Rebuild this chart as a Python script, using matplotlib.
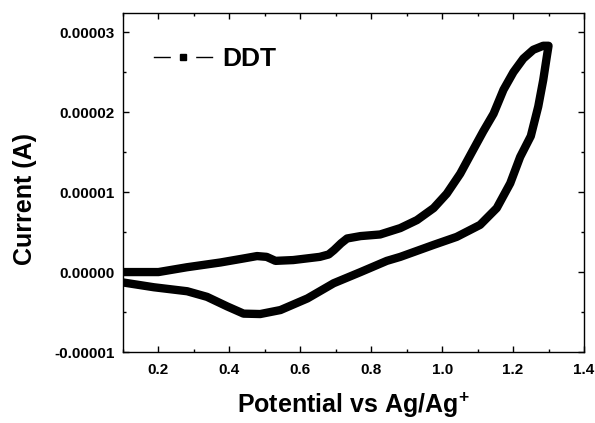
import numpy as np
import matplotlib
matplotlib.use('Agg')
import matplotlib.pyplot as plt
from matplotlib.ticker import MultipleLocator, FormatStrFormatter
from matplotlib.lines import Line2D
from matplotlib.legend_handler import HandlerTuple

plt.rcParams['font.family'] = ['Liberation Sans', 'DejaVu Sans']
plt.rcParams['font.weight'] = 'bold'
plt.rcParams['mathtext.fontset'] = 'custom'
plt.rcParams['mathtext.rm'] = 'Liberation Sans:bold'
plt.rcParams['mathtext.bf'] = 'Liberation Sans:bold'

# forward scan (upper branch), potential in V, current in 1e-5 A
fwd_x = [0.10, 0.20, 0.28, 0.375, 0.44, 0.478, 0.505, 0.53, 0.58, 0.655,
         0.68, 0.695, 0.715, 0.732, 0.77, 0.825, 0.882, 0.929, 0.976, 1.013,
         1.051, 1.084, 1.116, 1.145, 1.173, 1.201, 1.229, 1.257, 1.285, 1.30]
fwd_y = [0.0, 0.0, 0.06, 0.12, 0.17, 0.20, 0.19, 0.14, 0.15, 0.19,
         0.22, 0.275, 0.36, 0.42, 0.45, 0.47, 0.55, 0.65, 0.80, 0.98,
         1.23, 1.50, 1.76, 1.98, 2.28, 2.50, 2.67, 2.78, 2.83, 2.83]

# reverse scan (lower branch)
rev_x = [1.30, 1.295, 1.285, 1.271, 1.25, 1.22, 1.192, 1.154, 1.107, 1.041,
         0.976, 0.882, 0.844, 0.77, 0.694, 0.62, 0.544, 0.487, 0.44, 0.394,
         0.337, 0.281, 0.187, 0.10]
rev_y = [2.83, 2.69, 2.40, 2.07, 1.70, 1.44, 1.11, 0.80, 0.59, 0.44,
         0.34, 0.19, 0.14, 0.0, -0.14, -0.33, -0.475, -0.525, -0.52, -0.43,
         -0.31, -0.24, -0.19, -0.13]

x = np.array(fwd_x + rev_x)
y = np.array(fwd_y + rev_y) * 1e-5

fig = plt.figure(figsize=(5.95, 4.23), dpi=100)
ax = fig.add_axes([0.2067, 0.1678, 0.7748, 0.8015])

ax.plot(x, y, color='black', lw=6, solid_joinstyle='round', solid_capstyle='butt')

ax.set_xlim(0.1, 1.4)
ax.set_ylim(-1e-5, 3.24e-5)
ax.xaxis.set_major_locator(MultipleLocator(0.2))
ax.xaxis.set_minor_locator(MultipleLocator(0.1))
ax.yaxis.set_major_locator(MultipleLocator(1e-5))
ax.yaxis.set_minor_locator(MultipleLocator(0.5e-5))
ax.xaxis.set_major_formatter(FormatStrFormatter('%.1f'))
ax.yaxis.set_major_formatter(FormatStrFormatter('%.5f'))
ax.yaxis.get_offset_text().set_visible(False)

ax.tick_params(which='both', direction='in', top=True, right=True,
               labelsize=11, width=1)
ax.tick_params(which='major', length=4)
ax.tick_params(which='minor', length=2.5)
ax.tick_params(axis='x', pad=8)
ax.tick_params(axis='y', pad=6)
for lab in ax.get_xticklabels() + ax.get_yticklabels():
    lab.set_fontweight('bold')
for s in ax.spines.values():
    s.set_linewidth(1)

ax.set_xlabel('Potential vs Ag/Ag$^{+}$', fontsize=18, fontweight='bold', labelpad=10)
ax.set_ylabel('Current (A)', fontsize=18, fontweight='bold')
ax.yaxis.set_label_coords(-0.187, 0.45)

# origin-style legend symbol: line broken around the square
h_line = Line2D([], [], color='black', lw=1)
h_gap = Line2D([], [], color='white', lw=0, marker='s', markersize=17)
h_sq = Line2D([], [], color='black', lw=0, marker='s', markersize=5)
ax.legend([(h_line, h_gap, h_sq)], ['DDT'], loc='upper left',
          bbox_to_anchor=(0.015, 0.97), frameon=False, handlelength=2.2,
          handletextpad=0.4, handler_map={tuple: HandlerTuple(ndivide=1)},
          prop={'size': 19, 'weight': 'bold'})

plt.savefig('out.png', dpi=100)
